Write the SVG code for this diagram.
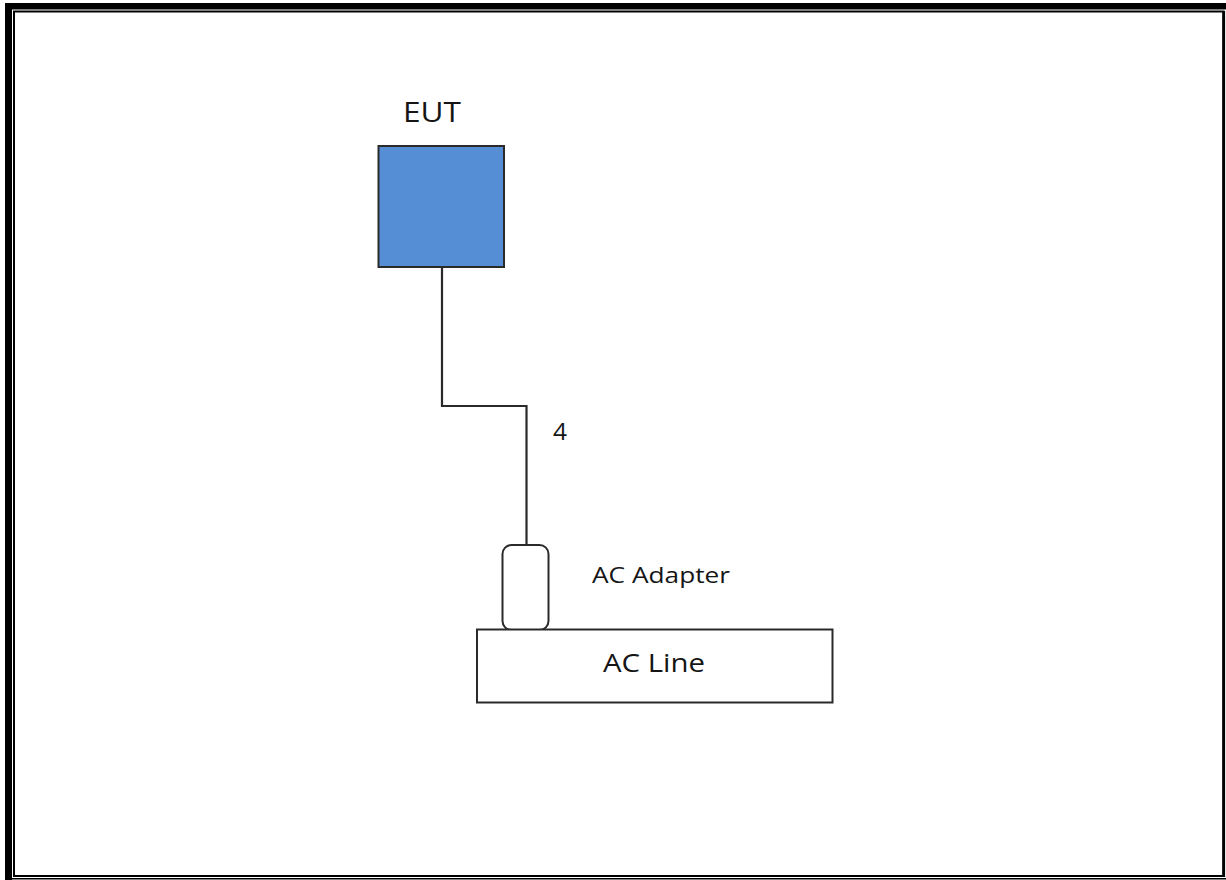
<svg xmlns="http://www.w3.org/2000/svg" width="1226" height="880" viewBox="0 0 1226 880">
<style>
  .lbl { font-family: "Open Sans", "Liberation Sans", Arial, sans-serif; fill: #151515; }
  .wire { fill: none; stroke: #2a2a2a; stroke-width: 2.2; }
  .box { stroke: #2a2a2a; stroke-width: 2; }
</style>
<rect x="0" y="0" width="1226" height="880" fill="#ffffff"/>
<g id="page-border">
  <rect x="5" y="3" width="7" height="877" fill="#000"/>
  <rect x="5" y="3" width="1221" height="6.5" fill="#000"/>
  <path d="M14 876 V11.5 H1223.5 V876 Z" fill="none" stroke="#000" stroke-width="2"/>
  <rect x="1222.3" y="11" width="2.8" height="866" fill="#000"/>
  <line x1="5" y1="878.8" x2="1226" y2="878.8" stroke="#000" stroke-width="1.6"/>
</g>
<g id="connectors">
  <path class="wire" d="M442 268 V406 H526.5 V545"/>
  <text class="lbl" x="553" y="440" font-size="23" textLength="14" lengthAdjust="spacingAndGlyphs">4</text>
</g>
<g id="eut">
  <rect class="box" x="378.5" y="146" width="125.5" height="121" fill="#558ED5"/>
  <text class="lbl" x="403" y="122" font-size="28" textLength="58" lengthAdjust="spacingAndGlyphs">EUT</text>
</g>
<g id="ac-adapter">
  <rect class="box" x="502.5" y="545" width="46" height="85" rx="9" ry="9" fill="#fff"/>
  <text class="lbl" x="592" y="583" font-size="22" textLength="138" lengthAdjust="spacingAndGlyphs">AC Adapter</text>
</g>
<g id="ac-line">
  <rect class="box" x="477" y="629.5" width="355.5" height="73" fill="#fff"/>
  <text class="lbl" x="603" y="672" font-size="25" textLength="102" lengthAdjust="spacingAndGlyphs">AC Line</text>
</g>
</svg>
